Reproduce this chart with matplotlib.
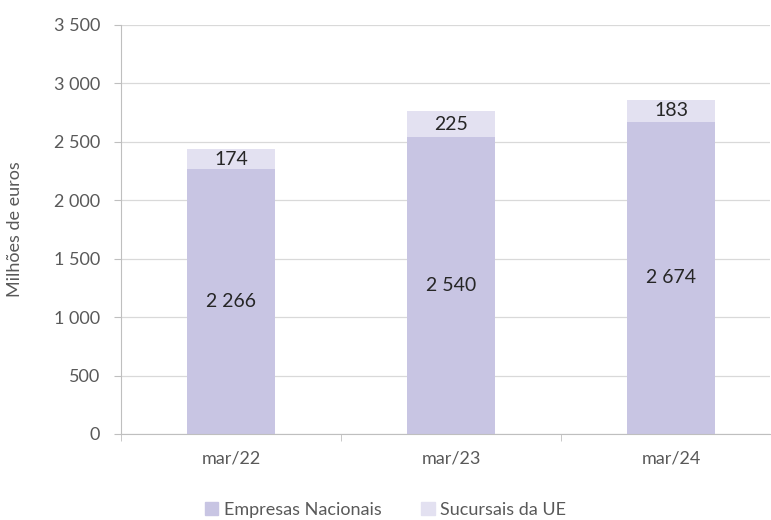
import matplotlib.pyplot as plt
import numpy as np
from matplotlib.patches import Patch

categorias = ["mar/22", "mar/23", "mar/24"]
nacionais = [2266, 2540, 2674]
sucursais = [174, 225, 183]

cor_nac = "#C8C5E3"
cor_ue = "#E3E1F1"
cinza = "#595959"

plt.rcParams['font.family'] = ['Lato', 'DejaVu Sans']


def fmt(v):
    return "{:,}".format(int(v)).replace(",", " ")


fig = plt.figure(figsize=(7.71, 5.2), dpi=100)
ax = fig.add_axes([121 / 771, 1 - 434 / 520, 649 / 771, 409 / 520])

x = np.arange(len(categorias))
ax.bar(x, nacionais, width=0.4, color=cor_nac, zorder=2)
ax.bar(x, sucursais, width=0.4, bottom=nacionais, color=cor_ue, zorder=2)

for i in range(len(categorias)):
    ax.text(x[i], nacionais[i] / 2, fmt(nacionais[i]), ha="center", va="center",
            fontsize=14, color="#262626", zorder=3)
    ax.text(x[i], nacionais[i] + sucursais[i] / 2, fmt(sucursais[i]), ha="center",
            va="center", fontsize=14, color="#262626", zorder=3)

ax.set_ylim(0, 3500)
ax.set_xlim(-0.5, 2.45)
ax.set_yticks(np.arange(0, 3501, 500))
ax.set_yticklabels([fmt(v) for v in np.arange(0, 3501, 500)])
ax.set_xticks(x)
ax.set_xticklabels(categorias)
ax.set_xticks([-0.5, 0.5, 1.5], minor=True)
ax.tick_params(axis="x", which="major", length=0, pad=12, labelsize=13, labelcolor=cinza)
ax.tick_params(axis="x", which="minor", length=5, color="#BFBFBF")
ax.tick_params(axis="y", length=5, color="#BFBFBF", labelsize=13, labelcolor=cinza, pad=10)

ax.grid(axis="y", color="#D9D9D9", linewidth=0.9, zorder=0)
for s in ["top", "right"]:
    ax.spines[s].set_visible(False)
ax.spines["left"].set_color("#BFBFBF")
ax.spines["bottom"].set_color("#BFBFBF")

ax.set_ylabel("Milhões de euros", fontsize=13, color=cinza, labelpad=22)

handles = [Patch(color=cor_nac, label="Empresas Nacionais"),
           Patch(color=cor_ue, label="Sucursais da UE")]
leg = fig.legend(handles=handles, loc="center", bbox_to_anchor=(0.5, 1 - 510 / 520),
                 ncol=2, frameon=False, fontsize=13, handlelength=0.75, handleheight=0.75,
                 handletextpad=0.3, columnspacing=2.2)
for t in leg.get_texts():
    t.set_color(cinza)

fig.savefig("out.png", dpi=100)
